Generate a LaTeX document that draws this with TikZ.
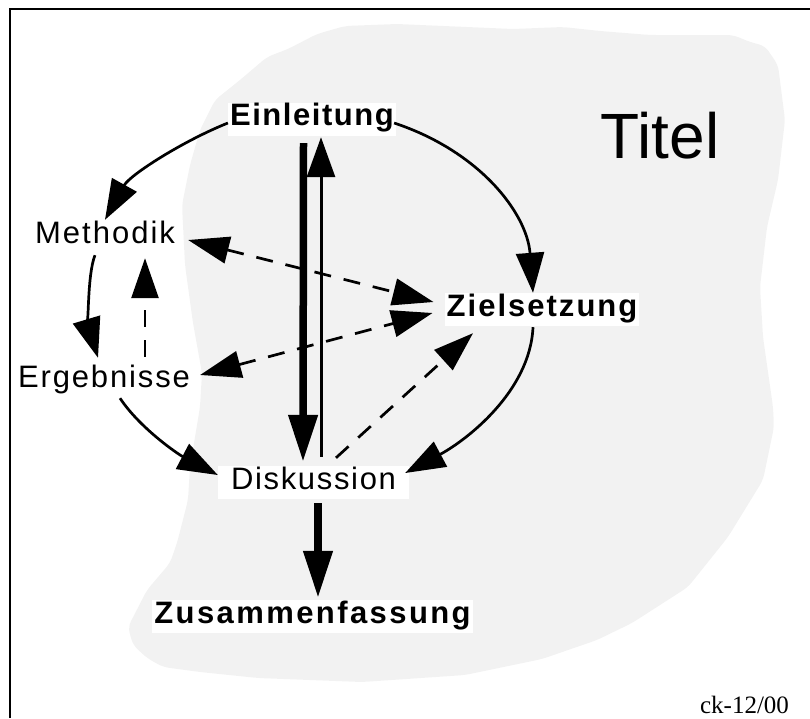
\documentclass[tikz,border=0pt]{standalone}
\usepackage{fontspec}
\setmainfont{Liberation Sans}
\newfontfamily\ckfont{Liberation Serif}
\usetikzlibrary{arrows.meta,calc}
\definecolor{blobgrey}{RGB}{242,242,242}
\newcommand\lsp[1]{\addfontfeatures{LetterSpace=#1}}
\begin{document}
\begin{tikzpicture}[x=1pt,y=-1pt,
  lab/.style={fill=white, inner xsep=2pt, inner ysep=0pt, text height=23pt, text depth=10pt,
              font=\fontsize{31}{36}\selectfont, anchor=center},
  arc/.style={line width=2.7pt, -{Triangle[length=40pt,width=28pt]}},
  dsh/.style={line width=2.7pt, dash pattern=on 17pt off 13pt},
  dtip/.style={-{Triangle[length=40pt,width=27pt]}},
  ddtip/.style={{Triangle[length=41pt,width=27pt]}-{Triangle[length=41pt,width=27pt]}},
  thick down/.style={line width=7.5pt, -{Triangle[length=47pt,width=28pt]}},
  thin up/.style={line width=3pt, -{Triangle[length=40pt,width=28pt]}}
]
\useasboundingbox (0,0) rectangle (810,718);
% grey background blob
\fill[blobgrey, rounded corners=6pt]
  (240,80) -- (267,57) -- (288,49) -- (317,34) -- (345,26) -- (397,24) -- (513,29)
  -- (563,27) -- (600,31) -- (650,35) -- (733,35) -- (750,42) -- (765,46) -- (778,65)
  -- (785,120) -- (778,180) -- (767,227) -- (760,287) -- (763,337) -- (773,407)
  -- (774,427) -- (763,480) -- (728,537) -- (688,587) -- (632,623) -- (597,640)
  -- (542,659) -- (465,675) -- (362,682) -- (258,678) -- (200,672) -- (163,667)
  -- (147,658) -- (133,645) -- (128,627) -- (147,590) -- (170,563) -- (177,543)
  -- (188,500) -- (190,467) -- (200,407) -- (202,373) -- (193,323) -- (185,265)
  -- (182,205) -- (190,165) -- (200,130) -- (215,100) -- cycle;
% frame
\draw[line width=2pt] (10,718) -- (10,9) -- (810,9);
% labels
\node[lab] (ein) at (312,119) {\lsp{5}\bfseries Einleitung};
\node[lab] (met) at (105,236.5) {\lsp{6.5}Methodik};
\node[lab] (erg) at (104,380.5) {\lsp{6}Ergebnisse};
\node[lab] (zie) at (542,309.5) {\lsp{6.5}\bfseries Zielsetzung};
\node[lab, minimum width=191pt] (dis) at (313.5,482.5) {\lsp{5.4}Diskussion};
\node[lab] (zus) at (312.5,616.5) {\lsp{7.8}\bfseries Zusammenfassung};
\node[font=\fontsize{64}{70}\selectfont, anchor=base, inner sep=0pt] (tit) at (660,158) {Titel};
\node[font=\ckfont\fontsize{25}{30}\selectfont, anchor=base, inner sep=0pt] (ck) at (744.5,713) {ck-12/00};
% circle arcs
\draw[arc] ($(ein.west)+(0,4)$) .. controls +(-45,18) and +(25,-45) .. (met.north);
\draw[arc] ($(ein.east)+(-2,4)$) .. controls +(85,28) and +(-6,-80) .. ($(zie.north)+(-9,0)$);
\draw[arc] ($(met.south)+(-10,2)$) .. controls +(-8,20) and +(-9,-30) .. ($(erg.north)+(-6,-6)$);
\draw[arc] ($(erg.south)+(16,1)$) .. controls +(20,30) and +(-40,-21) .. ($(dis.west)+(0,-7.5)$);
\draw[arc] ($(zie.south)+(-9,1)$) .. controls +(-3,65) and +(60,-32) .. ($(dis.east)+(-4,-9.5)$);
% vertical lines
\draw[thick down] ($(ein.south)+(-8.5,7.5)$) -- ($(dis.north)+(-10.5,-4)$);
\draw[thin up] ($(dis.north)+(7.5,-9)$) -- ($(ein.south)+(9,1.5)$);
\draw[thick down] ($(dis.south)+(4.5,4)$) -- ($(zus.north)+(5.5,-2)$);
% dashed connectors
\draw[dsh, dtip] ($(erg.north)+(41,-7)$) -- ($(met.south)+(40,5)$);
\draw[dsh, ddtip] ($(met.east)+(11,3.5)$) -- ($(zie.west)+(-11,-7.5)$);
\draw[dsh, ddtip] ($(erg.east)+(8,-5.5)$) -- ($(zie.west)+(-12,3.5)$);
\draw[dsh, dtip] ($(dis.north)+(22.5,-8)$) -- ($(zie.south)+(-69,7)$);
\end{tikzpicture}
\end{document}
